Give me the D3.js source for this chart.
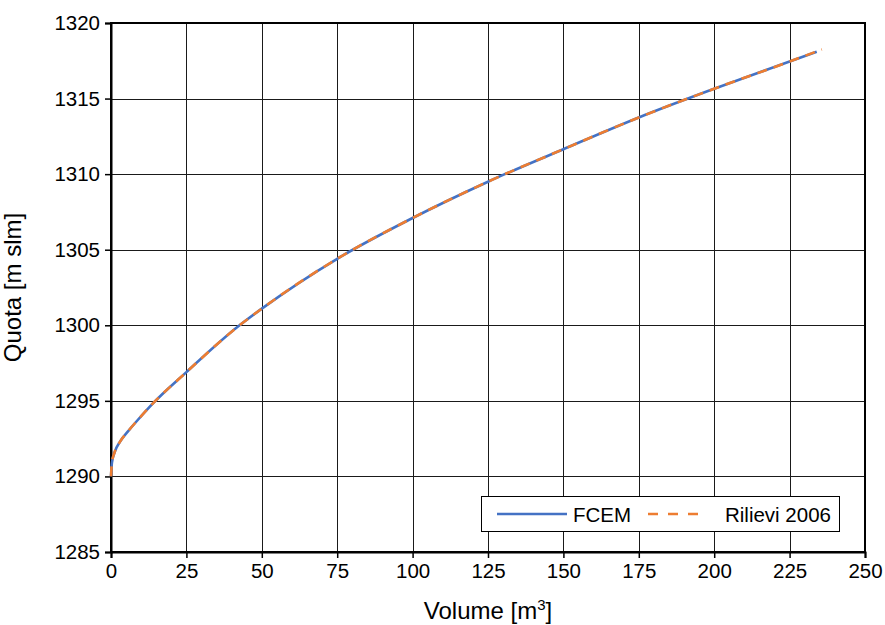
<!DOCTYPE html>
<html>
<head>
<meta charset="utf-8">
<script src="https://cdn.jsdelivr.net/npm/d3@7"></script>
<style>
  body { margin: 0; background: #fff; }
  svg { display: block; font-family: Arial, "Liberation Sans", sans-serif; }
</style>
</head>
<body>
<svg id="chart" width="885" height="625"></svg>
<script>
// ---- data ----
const volumeFCEM = [0, 0.3, 1.2, 3, 5.7, 8.5, 13.5, 25, 42, 50, 75, 100, 125, 150, 175, 200, 225, 234];
const quotaFCEM  = [1290, 1290.9, 1291.6, 1292.3, 1293.0, 1293.65, 1294.75, 1296.9, 1299.9, 1301.1, 1304.4, 1307.1, 1309.5, 1311.65, 1313.75, 1315.65, 1317.45, 1318.1];
const volumeRilievi = [0, 0.3, 1.2, 3, 5.7, 8.5, 13.5, 25, 42, 50, 75, 100, 125, 150, 175, 200, 225, 235.7];
const quotaRilievi  = [1290, 1290.9, 1291.6, 1292.3, 1293.0, 1293.65, 1294.75, 1296.9, 1299.9, 1301.1, 1304.4, 1307.1, 1309.5, 1311.65, 1313.75, 1315.65, 1317.45, 1318.25];
const xTicks = [0, 25, 50, 75, 100, 125, 150, 175, 200, 225, 250];
const yTicks = [1285, 1290, 1295, 1300, 1305, 1310, 1315, 1320];
const seriesNames = ["FCEM", "Rilievi 2006"];
const seriesColors = ["#4472C4", "#ED7D31"];

// ---- layout ----
const W = 885, H = 625;
const margin = { left: 111, right: 20, top: 23, bottom: 73 };
const svg = d3.select("#chart");

const x = d3.scaleLinear().domain([0, 250]).range([margin.left, W - margin.right]);
const y = d3.scaleLinear().domain([1285, 1320]).range([H - margin.bottom, margin.top]);

// gridlines
const grid = svg.append("g").attr("shape-rendering", "crispEdges");
grid.selectAll("line.v").data(xTicks).join("line")
  .attr("x1", d => Math.round(x(d)) + 0.5).attr("x2", d => Math.round(x(d)) + 0.5)
  .attr("y1", y(1320)).attr("y2", y(1285))
  .attr("stroke", "#1a1a1a").attr("stroke-width", 1);
grid.selectAll("line.h").data(yTicks).join("line")
  .attr("x1", x(0)).attr("x2", x(250))
  .attr("y1", d => Math.round(y(d)) + 0.5).attr("y2", d => Math.round(y(d)) + 0.5)
  .attr("stroke", "#1a1a1a").attr("stroke-width", 1);

// plot border
svg.append("rect")
  .attr("x", x(0)).attr("y", y(1320))
  .attr("width", x(250) - x(0)).attr("height", y(1285) - y(1320))
  .attr("fill", "none").attr("stroke", "#000").attr("stroke-width", 2);

// axes
const xAxis = svg.append("g")
  .attr("transform", `translate(0,${y(1285)})`)
  .call(d3.axisBottom(x).tickValues(xTicks).tickSize(6).tickPadding(5).tickFormat(d3.format("d")));
const yAxis = svg.append("g")
  .attr("transform", `translate(${x(0)},0)`)
  .call(d3.axisLeft(y).tickValues(yTicks).tickSize(6).tickPadding(5).tickFormat(d3.format("d")));
[xAxis, yAxis].forEach(a => {
  a.select(".domain").attr("stroke", "#000").attr("stroke-width", 2);
  a.selectAll(".tick line").attr("stroke", "#000").attr("stroke-width", 1.5);
  a.selectAll(".tick text").attr("fill", "#000")
    .style("font-family", 'Arial, "Liberation Sans", sans-serif').style("font-size", "20.5px");
});

// lines
const lineGen = d3.line().x(d => x(d[0])).y(d => y(d[1])).curve(d3.curveMonotoneX);
const fcem = volumeFCEM.map((v, i) => [v, quotaFCEM[i]]);
const ril = volumeRilievi.map((v, i) => [v, quotaRilievi[i]]);
svg.append("path").datum(fcem).attr("d", lineGen)
  .attr("fill", "none").attr("stroke", seriesColors[0]).attr("stroke-width", 2.6);
svg.append("path").datum(ril).attr("d", lineGen)
  .attr("fill", "none").attr("stroke", seriesColors[1]).attr("stroke-width", 2.6)
  .attr("stroke-dasharray", "10,7");

// axis titles
const xt = svg.append("text")
  .attr("x", (x(0) + x(250)) / 2).attr("y", 619)
  .attr("text-anchor", "middle").style("font-size", "24px").attr("fill", "#000");
xt.append("tspan").text("Volume [m");
xt.append("tspan").attr("dy", -9).style("font-size", "15px").text("3");
xt.append("tspan").attr("dy", 9).text("]");
svg.append("text")
  .attr("transform", `translate(21,${(y(1285) + y(1320)) / 2}) rotate(-90)`)
  .attr("text-anchor", "middle").style("font-size", "24px").attr("fill", "#000")
  .text("Quota [m slm]");

// legend
const lg = svg.append("g");
lg.append("rect").attr("x", 481.5).attr("y", 496.5).attr("width", 358).attr("height", 35)
  .attr("fill", "#fff").attr("stroke", "#000").attr("stroke-width", 1);
lg.append("line").attr("x1", 497).attr("x2", 567).attr("y1", 514).attr("y2", 514)
  .attr("stroke", seriesColors[0]).attr("stroke-width", 2.6);
lg.append("text").attr("x", 573).attr("y", 521.5).style("font-size", "20.5px").attr("fill", "#000").text(seriesNames[0]);
lg.append("line").attr("x1", 648).attr("x2", 706).attr("y1", 514).attr("y2", 514)
  .attr("stroke", seriesColors[1]).attr("stroke-width", 2.6).attr("stroke-dasharray", "10,10");
lg.append("text").attr("x", 725).attr("y", 521.5).style("font-size", "20.5px").attr("fill", "#000").text(seriesNames[1]);
</script>
</body>
</html>
